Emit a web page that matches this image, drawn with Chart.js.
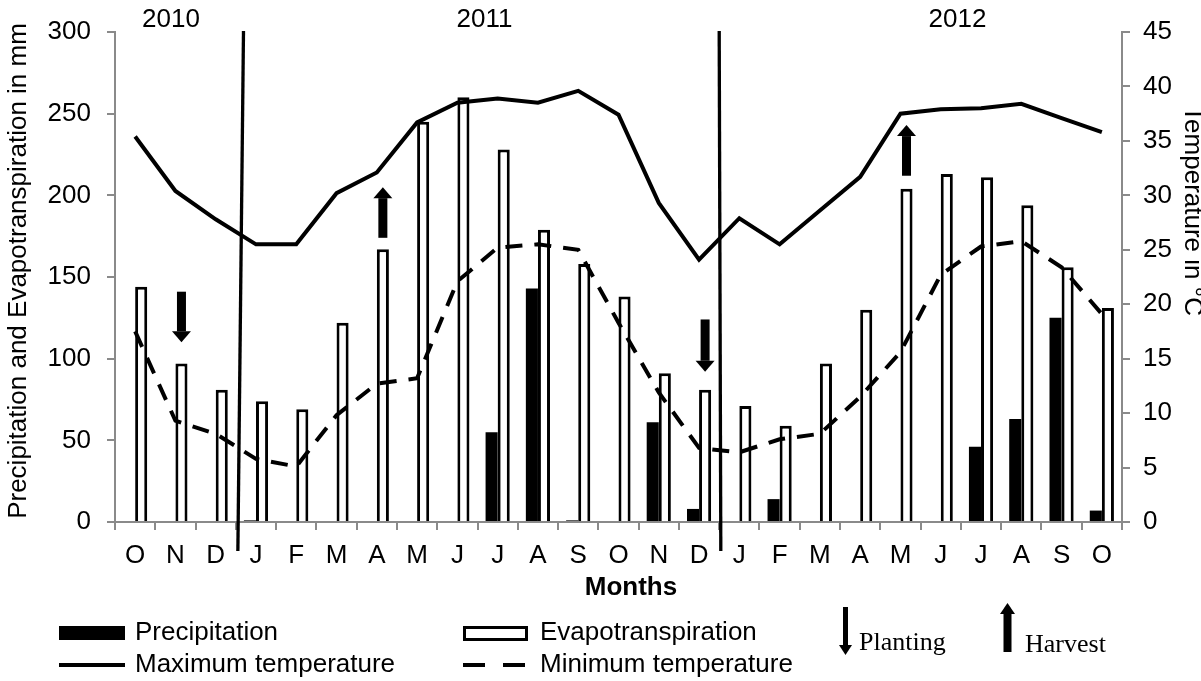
<!DOCTYPE html>
<html>
<head>
<meta charset="utf-8">
<title>Climate diagram</title>
<script src="https://cdn.jsdelivr.net/npm/chart.js@4/dist/chart.umd.min.js"></script>
<style>
  html, body { margin: 0; padding: 0; background: #fff; overflow: hidden; }
  #wrap { position: relative; width: 1201px; height: 681px; }
</style>
</head>
<body>
<div id="wrap"><canvas id="climate"></canvas></div>
<script>
// Monthly series, October 2010 to October 2012
const months = ['O','N','D','J','F','M','A','M','J','J','A','S','O','N','D','J','F','M','A','M','J','J','A','S','O'];
const precipitation = [0, 0, 0, 1, 0, 0, 0, 0, 0, 55, 143, 1, 0, 61, 8, 0, 14, 0, 0, 0, 0, 46, 63, 125, 7];
const evapotranspiration = [144, 97, 81, 74, 69, 122, 167, 245, 260, 228, 179, 158, 138, 91, 81, 71, 59, 97, 130, 204, 213, 211, 194, 156, 131];
const maxTemperature = [35.4, 30.4, 27.8, 25.5, 25.5, 30.2, 32.1, 36.7, 38.5, 38.9, 38.5, 39.6, 37.4, 29.3, 24.1, 27.9, 25.5, 28.6, 31.7, 37.5, 37.9, 38.0, 38.4, 37.1, 35.8];
const minTemperature = [17.5, 9.3, 8.1, 5.8, 5.1, 9.8, 12.7, 13.2, 22.1, 25.2, 25.5, 25.0, 18.3, 11.9, 6.8, 6.4, 7.6, 8.1, 11.5, 15.6, 22.7, 25.3, 25.8, 23.4, 19.1];

// Axis ranges and steps
const mmRange = [0, 300];
const mmStep = 50;
const tempRange = [0, 45];
const tempStep = 5;

// Year labels and the month positions where a new year starts (top / bottom of the divider)
const years = ['2010', '2011', '2012'];
const yearBreakTop = [2.69, 14.5];
const yearBreakBottom = [2.55, 14.54];

// Planting (down arrows) and harvest (up arrows): month index, arrow start and end in mm
const plantingMonths = [1, 14];
const plantingFrom = [141, 124];
const plantingTo = [110, 92];
const harvestMonths = [6, 19];
const harvestFrom = [174, 212];
const harvestTo = [205, 243];

const AXIS_GREY = '#8a8a8a';
const SANS = "'Liberation Sans', Arial, Helvetica, sans-serif";
const SERIF = "'Liberation Serif', 'Times New Roman', serif";

Chart.defaults.font.family = SANS;
Chart.defaults.font.size = 26;
Chart.defaults.color = '#000';

function drawArrow(ctx, x, yFrom, yTo, shaftW, headW, headL) {
  const dir = yTo > yFrom ? 1 : -1;
  const yHead = yTo - dir * headL;
  ctx.fillRect(x - shaftW / 2, Math.min(yFrom, yHead), shaftW, Math.abs(yHead - yFrom));
  ctx.beginPath();
  ctx.moveTo(x - headW / 2, yHead);
  ctx.lineTo(x + headW / 2, yHead);
  ctx.lineTo(x, yTo);
  ctx.closePath();
  ctx.fill();
}

// Year dividers, crop arrows, temperature tick labels, axis titles and the legend block
const annotations = {
  id: 'annotations',
  afterDraw(chart) {
    const ctx = chart.ctx;
    const xs = chart.scales.x;
    const ys = chart.scales.y;
    const ts = chart.scales.yT;
    const area = chart.chartArea;
    const evapMeta = chart.getDatasetMeta(3);
    ctx.save();
    ctx.fillStyle = '#000';
    ctx.strokeStyle = '#000';

    // year dividers
    ctx.lineWidth = 3.3;
    for (let i = 0; i < yearBreakTop.length; i++) {
      ctx.beginPath();
      ctx.moveTo(xs.getPixelForValue(yearBreakTop[i]), area.top - 1);
      ctx.lineTo(xs.getPixelForValue(yearBreakBottom[i]), area.bottom + 29);
      ctx.stroke();
    }

    // planting / harvest arrows above the evapotranspiration bars
    plantingMonths.forEach((m, i) => {
      drawArrow(ctx, evapMeta.data[m].x, ys.getPixelForValue(plantingFrom[i]), ys.getPixelForValue(plantingTo[i]), 9, 19, 11);
    });
    harvestMonths.forEach((m, i) => {
      drawArrow(ctx, evapMeta.data[m].x, ys.getPixelForValue(harvestFrom[i]), ys.getPixelForValue(harvestTo[i]), 9, 19, 11);
    });

    // temperature axis labels
    ctx.font = '26px ' + SANS;
    ctx.textAlign = 'left';
    ctx.textBaseline = 'middle';
    ts.ticks.forEach(t => {
      ctx.fillText(String(t.value), ts.left + 21, ts.getPixelForValue(t.value));
    });

    // year labels
    ctx.textAlign = 'center';
    ctx.fillText(years[0], 171, 20);
    ctx.fillText(years[1], 484.5, 20);
    ctx.fillText(years[2], 957.5, 20);

    // left axis title
    ctx.save();
    ctx.translate(26, 271);
    ctx.rotate(-Math.PI / 2);
    ctx.textBaseline = 'alphabetic';
    ctx.fillText('Precipitation and Evapotranspiration in mm', 0, 0);
    ctx.restore();

    // right axis title (runs past the right edge of the canvas)
    ctx.save();
    ctx.translate(1185, 211);
    ctx.rotate(Math.PI / 2);
    ctx.textBaseline = 'alphabetic';
    ctx.fillText('Temperature in °C', 0, 0);
    ctx.restore();

    // x axis title
    ctx.font = 'bold 26px ' + SANS;
    ctx.fillText('Months', 631, 588);

    // legend swatches
    ctx.fillRect(59, 626, 66, 14);
    ctx.fillStyle = '#fff';
    ctx.fillRect(464, 627, 62, 12);
    ctx.fillStyle = '#000';
    ctx.lineWidth = 3;
    ctx.strokeRect(464.5, 627.5, 62, 12);
    ctx.lineWidth = 4;
    ctx.beginPath();
    ctx.moveTo(59, 665);
    ctx.lineTo(125, 665);
    ctx.stroke();
    ctx.beginPath();
    ctx.moveTo(463, 665); ctx.lineTo(485, 665);
    ctx.moveTo(503, 665); ctx.lineTo(525, 665);
    ctx.stroke();

    // legend labels
    ctx.font = '26px ' + SANS;
    ctx.textAlign = 'left';
    ctx.textBaseline = 'middle';
    ctx.fillText('Precipitation', 135, 633);
    ctx.fillText('Evapotranspiration', 540, 633);
    ctx.fillText('Maximum temperature', 135, 665);
    ctx.fillText('Minimum temperature', 540, 665);

    // legend arrows
    drawArrow(ctx, 845.5, 607, 655, 5, 13, 10);
    drawArrow(ctx, 1007.5, 652, 603, 8, 15, 11);
    ctx.font = '26px ' + SERIF;
    ctx.textBaseline = 'alphabetic';
    ctx.fillText('Planting', 859, 650);
    ctx.fillText('Harvest', 1025, 652);

    ctx.restore();
  }
};

const axisGrid = { drawOnChartArea: false, color: AXIS_GREY, tickLength: 8, lineWidth: 2 };
const axisBorder = { color: AXIS_GREY, width: 2 };

new Chart(document.getElementById('climate'), {
  type: 'bar',
  data: {
    labels: months,
    datasets: [
      {
        type: 'line', label: 'Maximum temperature', data: maxTemperature, yAxisID: 'yT',
        borderColor: '#000', borderWidth: 4, pointRadius: 0, tension: 0, fill: false, order: 0
      },
      {
        type: 'line', label: 'Minimum temperature', data: minTemperature, yAxisID: 'yT',
        borderColor: '#000', borderWidth: 4, borderDash: [17, 12], pointRadius: 0, tension: 0, fill: false, order: 0
      },
      {
        label: 'Precipitation', data: precipitation, yAxisID: 'y',
        backgroundColor: '#000', borderWidth: 0, categoryPercentage: 0.6, barPercentage: 1, order: 1
      },
      {
        label: 'Evapotranspiration', data: evapotranspiration, yAxisID: 'y',
        backgroundColor: '#fff', borderColor: '#000', borderWidth: 3, categoryPercentage: 0.6, barPercentage: 1, order: 2
      }
    ]
  },
  options: {
    responsive: true,
    maintainAspectRatio: false,
    animation: false,
    layout: { padding: { top: 32, left: 0, right: 0, bottom: 0 } },
    plugins: { legend: { display: false }, tooltip: { enabled: false } },
    scales: {
      x: {
        grid: Object.assign({ offset: true }, axisGrid),
        border: axisBorder,
        ticks: { padding: 10, maxRotation: 0, autoSkip: false },
        afterFit(scale) { scale.height = 159; }
      },
      y: {
        position: 'left', min: mmRange[0], max: mmRange[1],
        ticks: { stepSize: mmStep, padding: 16 },
        grid: axisGrid, border: axisBorder,
        afterFit(scale) { scale.width = 115; }
      },
      yT: {
        position: 'right', min: tempRange[0], max: tempRange[1],
        ticks: { stepSize: tempStep, display: false },
        grid: axisGrid, border: axisBorder,
        afterFit(scale) { scale.width = 79; }
      }
    }
  },
  plugins: [annotations]
});
</script>
</body>
</html>
